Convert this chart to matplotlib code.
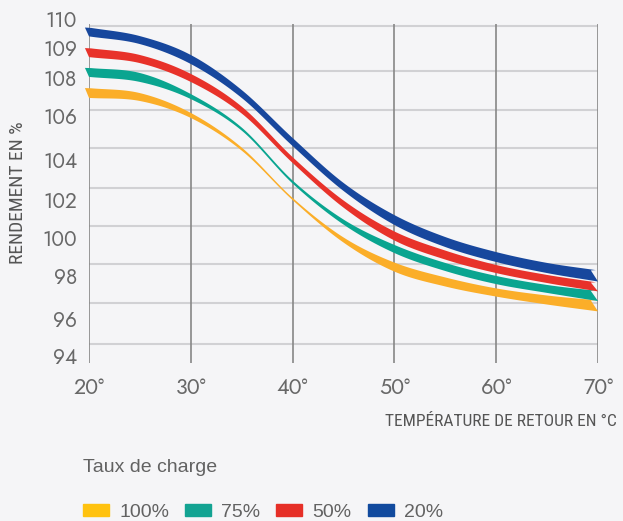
import numpy as np
import matplotlib
matplotlib.use("Agg")
import matplotlib.pyplot as plt
from matplotlib.patches import Patch

# Température de retour (°C)
temp = [20, 25, 30, 35, 40, 45, 50, 55, 60, 65, 70]

# Rendement (%) : bord haut / bord bas de chaque bande
yel_top = [107.45, 107.19, 106.16, 104.55, 102.08, 100.03, 98.69, 97.91, 97.40, 97.07, 96.84]
yel_bot = [106.94, 106.78, 105.91, 104.41, 101.97, 99.76, 98.21, 97.49, 97.02, 96.65, 96.33]
tea_top = [108.32, 108.15, 107.14, 105.47, 102.95, 100.96, 99.63, 98.67, 97.98, 97.56, 97.28]
tea_bot = [108.02, 107.77, 106.88, 105.33, 102.80, 100.70, 99.20, 98.24, 97.60, 97.19, 96.81]
red_top = [108.98, 108.75, 108.12, 106.49, 104.11, 101.95, 100.34, 99.33, 98.56, 98.03, 97.67]
red_bot = [108.68, 108.48, 107.77, 106.13, 103.83, 101.58, 99.87, 98.85, 98.13, 97.65, 97.26]
blu_top = [109.70, 109.40, 108.75, 107.35, 104.99, 102.83, 101.19, 100.05, 99.25, 98.67, 98.27]
blu_bot = [109.39, 109.12, 108.45, 106.94, 104.62, 102.43, 100.68, 99.52, 98.72, 98.13, 97.72]

loads = ['100%', '75%', '50%', '20%']
curve_colors = ['#fbae29', '#0aa590', '#e8322a', '#17479d']
legend_colors = ['#ffc20f', '#13a392', '#e62f27', '#114a9e']

x_ticks = [20, 30, 40, 50, 60, 70]
x_labels = ['20°', '30°', '40°', '50°', '60°', '70°']
y_ticks = [94, 96, 98, 100, 102, 104, 106, 108, 109, 110]
y_labels = [str(v) for v in y_ticks]
grid_vals = [109.75, 108.22, 106.31, 104.53, 102.58, 100.62, 98.61, 96.72, 94.64]

# axe vertical non linéaire (position des graduations dans l'image)
scale_vals = np.array([90, 94, 96, 98, 100, 102, 104, 106, 108, 109, 110, 112])
scale_pix = np.array([431, 356, 318.5, 275.5, 238, 199.5, 159.5, 116, 77.5, 47.5, 19, -38])


def fwd(v):
    return -np.interp(v, scale_vals, scale_pix)


def inv(y):
    return np.interp(-np.asarray(y), scale_pix[::-1], scale_vals[::-1])


def smooth(x, y, n=24):
    pts = np.column_stack([x, y])
    P = np.vstack([2 * pts[0] - pts[1], pts, 2 * pts[-1] - pts[-2]])
    t = np.linspace(0, 1, n, endpoint=False)[:, None]
    out = []
    for i in range(1, len(P) - 2):
        p0, p1, p2, p3 = P[i - 1], P[i], P[i + 1], P[i + 2]
        out.append(0.5 * (2 * p1 + (-p0 + p2) * t + (2 * p0 - 5 * p1 + 4 * p2 - p3) * t ** 2
                          + (-p0 + 3 * p1 - 3 * p2 + p3) * t ** 3))
    out.append(pts[-1][None])
    s = np.vstack(out)
    return s[:, 0], inv(s[:, 1])


narrow = ['Roboto Condensed', 'Archivo Narrow', 'PT Sans Narrow', 'DejaVu Sans']
geo = ['Jost', 'Lato', 'DejaVu Sans']

bg = '#f5f5f7'
fig = plt.figure(figsize=(6.23, 5.21), dpi=100, facecolor=bg)
ax = fig.add_axes([89 / 623, 1 - 363 / 521, 509 / 623, 353 / 521])
ax.set_facecolor(bg)
ax.set_yscale('function', functions=(fwd, inv))
ax.set_xlim(20, 70)
ax.set_ylim(inv(-363), inv(-10))

ax.hlines(grid_vals, 20, 70.1, color='#d1d1d4', lw=1.5, zorder=1)
ax.vlines(x_ticks, inv(-363), inv(-24), color='#878787', lw=1.2, zorder=2)

bands = [(yel_top, yel_bot), (tea_top, tea_bot), (red_top, red_bot), (blu_top, blu_bot)]
for (top, bot), c in zip(bands, curve_colors):
    xt, yt = smooth(temp, fwd(np.array(top)))
    xb, yb = smooth(temp, fwd(np.array(bot)))
    xt = xt.copy()
    xt[0] -= 0.4
    xt[-1] -= 0.7
    ax.fill(np.concatenate([xt, xb[::-1]]), np.concatenate([yt, yb[::-1]]),
            color=c, lw=0, zorder=3, clip_on=False)

for s in ax.spines.values():
    s.set_visible(False)

ax.set_xticks(x_ticks, x_labels)
ax.set_yticks(y_ticks, y_labels)
ax.yaxis.set_minor_locator(matplotlib.ticker.NullLocator())
ax.tick_params(axis='y', length=0, pad=8.5, labelsize=15, labelcolor='#686868')
ax.tick_params(axis='x', length=0, pad=10, labelsize=15.5, labelcolor='#686868')
for lab in ax.get_xticklabels() + ax.get_yticklabels():
    lab.set_family(geo)

fig.text(617 / 623, 1 - 421 / 521, 'TEMPÉRATURE DE RETOUR EN °C', ha='right', va='center',
         fontsize=12.5, color='#555555', family=narrow)
fig.text(18 / 623, 1 - 193 / 521, 'RENDEMENT EN %', ha='center', va='center', rotation=90,
         fontsize=14, color='#555555', family=narrow)

handles = [Patch(color=c) for c in legend_colors]
leg = fig.legend(handles, loads, loc='upper left', bbox_to_anchor=(83 / 623, 1 - 459 / 521),
                 ncol=4, frameon=False, title='Taux de charge', alignment='left',
                 borderpad=0, borderaxespad=0, handlelength=1.34, handleheight=0.57,
                 handletextpad=0.52, columnspacing=0.82, labelspacing=1.42,
                 prop={'family': 'Liberation Sans', 'size': 14},
                 title_fontproperties={'family': 'Liberation Sans', 'size': 14})
for t in leg.get_texts():
    t.set_color('#626262')
leg.get_title().set_color('#626262')

fig.savefig('out.png', dpi=100, facecolor=bg)
